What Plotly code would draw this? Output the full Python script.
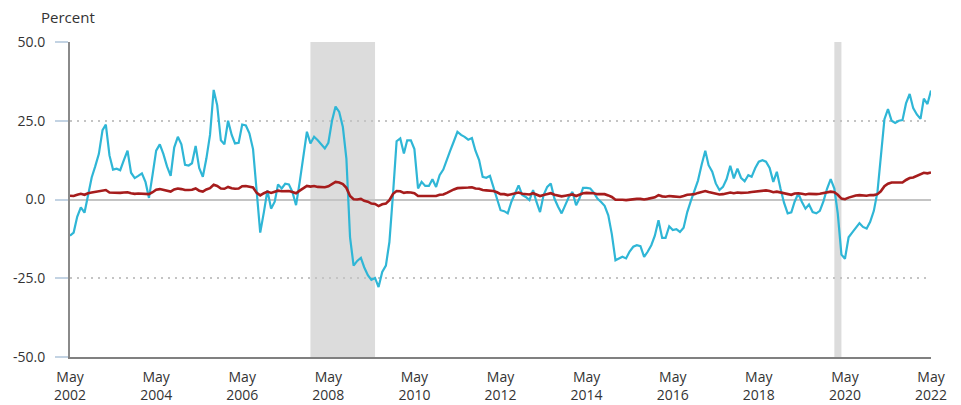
import pandas as pd
import plotly.graph_objects as go

# Monthly 12-month percent changes, May 2002 - May 2022
energy_2002 = [-11.5, -10.5, -5.5, -2.5, -4.2, 1.5, 7.0, 10.5]
energy_2003 = [14.5, 22.0, 23.8, 14.0, 9.5, 9.8, 9.3, 12.5, 15.5, 8.5, 6.8, 7.5]
energy_2004 = [8.3, 5.5, 0.5, 8.0, 15.5, 17.5, 14.5, 10.5, 7.5, 16.5, 19.9, 17.5]
energy_2005 = [11.0, 10.8, 11.5, 17.0, 10.0, 7.2, 13.0, 20.5, 34.8, 29.9, 18.8, 17.5]
energy_2006 = [25.0, 20.5, 17.8, 18.0, 23.8, 23.5, 21.0, 16.0, 3.0, -10.5, -4.0, 2.9]
energy_2007 = [-2.9, -0.7, 4.8, 3.5, 5.0, 4.8, 2.4, -1.8, 5.6, 13.5, 21.5, 17.8]
energy_2008 = [19.9, 18.8, 17.5, 16.2, 18.0, 25.0, 29.5, 27.8, 23.0, 13.0, -12.0, -21.0]
energy_2009 = [-19.5, -18.5, -21.5, -24.0, -25.5, -24.9, -27.8, -23.0, -21.0, -13.5, 2.0, 18.5]
energy_2010 = [19.4, 14.6, 18.8, 18.8, 16.0, 3.5, 5.6, 4.3, 4.3, 6.4, 4.0, 7.7]
energy_2011 = [9.5, 13.0, 15.5, 18.5, 21.5, 20.5, 19.9, 19.0, 19.5, 15.5, 12.5, 7.2]
energy_2012 = [6.9, 7.5, 4.0, 1.0, -3.4, -3.7, -4.4, -0.7, 2.0, 4.5, 1.4, 0.8]
energy_2013 = [-0.2, 3.0, -0.7, -4.0, 1.4, 4.0, 5.1, 0.3, -2.3, -4.4, -1.8, 0.8]
energy_2014 = [2.4, -1.8, 0.3, 3.7, 3.7, 3.5, 2.2, 0.3, -0.8, -2.0, -5.0, -11.0]
energy_2015 = [-19.3, -18.7, -18.2, -18.7, -16.5, -15.0, -14.5, -14.8, -18.2, -16.6, -14.5, -11.5]
energy_2016 = [-6.6, -12.2, -12.2, -8.5, -9.7, -9.4, -10.3, -9.0, -4.0, -0.5, 3.0, 6.0]
energy_2017 = [11.0, 15.5, 10.9, 8.8, 5.1, 3.0, 4.0, 6.5, 10.7, 6.7, 9.8, 6.9]
energy_2018 = [5.8, 7.7, 7.2, 10.0, 12.0, 12.5, 12.0, 10.0, 5.6, 8.8, 3.5, -1.0]
energy_2019 = [-4.4, -4.1, -0.7, 1.9, -0.7, -2.9, -1.6, -4.0, -4.4, -3.6, -0.5, 3.4]
energy_2020 = [6.5, 3.5, -4.5, -17.5, -18.8, -12.0, -10.5, -9.0, -7.5, -8.7, -9.2, -7.1]
energy_2021 = [-3.6, 2.5, 13.5, 25.5, 28.7, 25.0, 24.3, 25.0, 25.2, 30.5, 33.5, 29.0]
energy_2022 = [27.0, 25.6, 32.0, 30.3, 34.6]

all_2002 = [1.2, 1.1, 1.5, 1.8, 1.5, 2.0, 2.2, 2.4]
all_2003 = [2.6, 3.0, 3.0, 2.2, 2.1, 2.1, 2.1, 2.2, 2.3, 2.0, 1.8, 1.9]
all_2004 = [1.9, 1.7, 1.7, 2.3, 3.1, 3.3, 3.0, 2.7, 2.5, 3.2, 3.5, 3.3]
all_2005 = [3.0, 3.0, 3.1, 3.5, 2.8, 2.5, 3.2, 3.6, 4.7, 4.3, 3.5, 3.4]
all_2006 = [4.0, 3.6, 3.4, 3.5, 4.2, 4.3, 4.1, 3.8, 2.1, 1.3, 2.0, 2.5]
all_2007 = [2.1, 2.4, 2.8, 2.6, 2.7, 2.7, 2.4, 2.0, 2.8, 3.5, 4.3, 4.1]
all_2008 = [4.3, 4.0, 4.0, 3.9, 4.2, 5.0, 5.6, 5.4, 4.9, 3.7, 1.1, 0.1]
all_2009 = [0.0, 0.2, -0.4, -0.7, -1.3, -1.4, -2.1, -1.5, -1.3, -0.2, 1.8, 2.7]
all_2010 = [2.6, 2.1, 2.3, 2.2, 2.0, 1.1, 1.2, 1.1, 1.1, 1.2, 1.1, 1.5]
all_2011 = [1.6, 2.1, 2.7, 3.2, 3.6, 3.6, 3.6, 3.8, 3.9, 3.5, 3.4, 3.0]
all_2012 = [2.9, 2.9, 2.7, 2.3, 1.7, 1.7, 1.4, 1.7, 2.0, 2.2, 1.8, 1.7]
all_2013 = [1.6, 2.0, 1.5, 1.1, 1.4, 1.8, 2.0, 1.5, 1.2, 1.0, 1.2, 1.5]
all_2014 = [1.6, 1.1, 1.5, 2.0, 2.1, 2.1, 2.0, 1.7, 1.7, 1.7, 1.3, 0.8]
all_2015 = [-0.1, 0.0, -0.1, -0.2, 0.0, 0.1, 0.2, 0.2, 0.0, 0.2, 0.5, 0.7]
all_2016 = [1.4, 1.0, 0.9, 1.1, 1.0, 1.0, 0.8, 1.1, 1.5, 1.6, 1.7, 2.1]
all_2017 = [2.5, 2.7, 2.4, 2.2, 1.9, 1.6, 1.7, 1.9, 2.2, 2.0, 2.2, 2.1]
all_2018 = [2.1, 2.2, 2.4, 2.5, 2.8, 2.9, 2.9, 2.7, 2.3, 2.5, 2.2, 1.9]
all_2019 = [1.6, 1.5, 1.9, 2.0, 1.8, 1.6, 1.8, 1.7, 1.7, 1.8, 2.1, 2.3]
all_2020 = [2.5, 2.3, 1.5, 0.3, 0.1, 0.6, 1.0, 1.3, 1.4, 1.2, 1.2, 1.4]
all_2021 = [1.4, 1.7, 2.6, 4.2, 5.0, 5.4, 5.4, 5.3, 5.4, 6.2, 6.8, 7.0]
all_2022 = [7.5, 7.9, 8.5, 8.3, 8.6]

recessions = [("2007-12-01", "2009-06-01"), ("2020-02-01", "2020-04-01")]
x_tick_dates = ["2002-05-01", "2004-05-01", "2006-05-01", "2008-05-01", "2010-05-01",
                "2012-05-01", "2014-05-01", "2016-05-01", "2018-05-01", "2020-05-01",
                "2022-05-01"]
x_tick_text = ["May<br>2002", "May<br>2004", "May<br>2006", "May<br>2008", "May<br>2010",
               "May<br>2012", "May<br>2014", "May<br>2016", "May<br>2018", "May<br>2020",
               "May<br>2022"]
y_tick_vals = [-50, -25, 0, 25, 50]
y_tick_text = ["-50.0", "-25.0", "0.0", "25.0", "50.0"]

energy = (energy_2002 + energy_2003 + energy_2004 + energy_2005 + energy_2006 + energy_2007
          + energy_2008 + energy_2009 + energy_2010 + energy_2011 + energy_2012 + energy_2013
          + energy_2014 + energy_2015 + energy_2016 + energy_2017 + energy_2018 + energy_2019
          + energy_2020 + energy_2021 + energy_2022)
all_items = (all_2002 + all_2003 + all_2004 + all_2005 + all_2006 + all_2007 + all_2008
             + all_2009 + all_2010 + all_2011 + all_2012 + all_2013 + all_2014 + all_2015
             + all_2016 + all_2017 + all_2018 + all_2019 + all_2020 + all_2021 + all_2022)
dates = pd.date_range("2002-05-01", periods=len(energy), freq="MS")

FONT = "Open Sans"
W, H = 953, 397
fig = go.Figure()
for start, end in recessions:
    fig.add_shape(type="rect", xref="x", yref="paper", x0=start, x1=end, y0=0, y1=1,
                  fillcolor="#dcdcdc", line_width=0, layer="below")

fig.add_trace(go.Scatter(x=dates, y=energy, mode="lines", name="Energy",
                         line=dict(color="#2fb6d6", width=2.2)))
fig.add_trace(go.Scatter(x=dates, y=all_items, mode="lines", name="All items",
                         line=dict(color="#a61c1c", width=2.6)))

fig.update_layout(
    width=W, height=H,
    margin=dict(l=62, r=30, t=34, b=48),
    paper_bgcolor="white", plot_bgcolor="white",
    showlegend=False,
    font=dict(family=FONT, size=14, color="#333333"),
)
fig.update_xaxes(
    range=["2002-05-01", "2022-05-01"],
    tickvals=x_tick_dates, ticktext=x_tick_text,
    showgrid=False, showline=True, linecolor="#808080", linewidth=2,
    ticks="", tickfont=dict(family=FONT, size=14, color="#333333"),
    ticklabelstandoff=6, automargin=False,
    zeroline=False,
)
fig.update_yaxes(
    range=[-50, 50], tickvals=y_tick_vals, ticktext=y_tick_text,
    showgrid=True, gridcolor="#c4c4c4", griddash="2px,5px", gridwidth=1.5,
    zeroline=True, zerolinecolor="#c4c4c4", zerolinewidth=2,
    showline=True, linecolor="#8a8a8a", linewidth=2,
    ticks="outside", ticklen=13, tickcolor="#c3d3e3", tickwidth=2,
    ticklabelstandoff=7, automargin=False,
    tickfont=dict(family=FONT, size=14, color="#333333"),
)
fig.add_annotation(text="Percent", xref="paper", yref="paper",
                   x=-31 / 861, y=1 + 25 / 315, xanchor="left", yanchor="middle",
                   showarrow=False, font=dict(family=FONT, size=15, color="#333333"))

fig.write_html("out.html")
